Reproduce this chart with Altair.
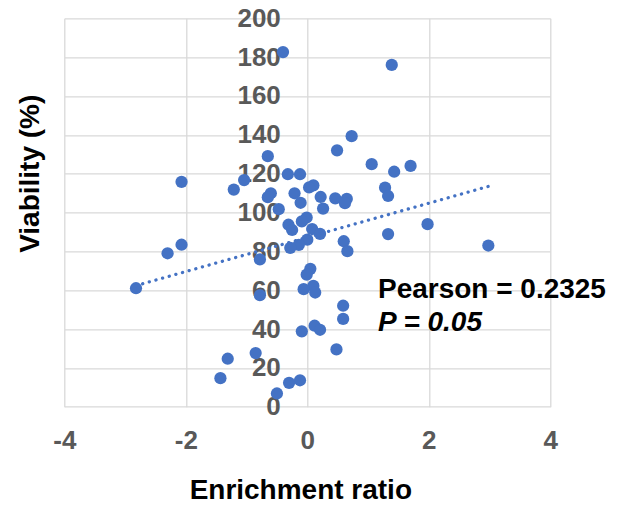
import altair as alt
import pandas as pd

# Enrichment ratio (x) and viability % (y)
enrichment = [-0.40, 1.39, 0.73, 0.49, -0.65, 1.06, 1.70, 1.43, -0.32, -0.12,
              -1.04, -2.07, 0.10, 0.03, 1.28, -1.21, -0.60, -0.65, -0.21, 1.33,
              0.22, 0.46, 0.65, 0.62, -0.11, 0.26, -0.47, -0.01, -0.09, 1.98,
              -0.31, -0.25, 0.08, 0.21, 1.33, 0.00, 0.60, -0.14, -2.07, 2.98,
              -0.28, 0.66, -2.30, -0.78, 0.05, -0.01, 0.10, -2.82, -0.06, 0.13,
              -0.78, 0.59, 0.59, 0.12, 0.21, -0.09, 0.48, -0.85, -1.31, -1.43,
              -0.12, -0.30, -0.50]
viability = [182.6, 176.0, 139.3, 132.0, 129.0, 124.9, 124.0, 121.0, 119.7, 119.7,
             116.7, 115.8, 114.0, 112.9, 112.8, 111.8, 109.9, 107.9, 109.9, 108.5,
             108.0, 107.3, 107.0, 104.8, 105.0, 102.0, 101.7, 97.4, 95.4, 94.0,
             93.7, 91.0, 91.5, 89.0, 88.9, 86.0, 85.2, 83.3, 83.4, 83.0,
             81.8, 80.1, 79.0, 75.8, 71.0, 68.0, 62.2, 61.0, 60.5, 58.8,
             57.4, 52.0, 45.2, 41.7, 39.6, 38.8, 29.5, 27.6, 24.7, 14.7,
             13.6, 12.3, 6.8]
x_ticks = [-4, -2, 0, 2, 4]
y_ticks = [0, 20, 40, 60, 80, 100, 120, 140, 160, 180, 200]
annot_lines = ["Pearson = 0.2325", "P = 0.05"]

df = pd.DataFrame({"x": enrichment, "y": viability})

FONT = "Liberation Sans"
BLUE = "#4472C4"
GRID = "#d9d9d9"
HYPHEN_LABEL = "datum.value < 0 ? '-' + abs(datum.value) : '' + datum.value"

xenc = alt.X(
    "x:Q",
    scale=alt.Scale(domain=[-4, 4], nice=False, zero=False),
    axis=alt.Axis(
        values=x_ticks, title="Enrichment ratio", grid=True, gridColor=GRID,
        gridWidth=1.3, domain=False, ticks=False, labelPadding=21,
        labelExpr=HYPHEN_LABEL,
        labelFont=FONT, labelFontSize=26, labelFontWeight="bold",
        labelColor="#595959", labelFlush=False, labelOverlap=False,
        titleFont=FONT, titleFontSize=28, titleFontWeight="bold",
        titleColor="#000000", titleX=236, titleY=92.3, titleAlign="center",
        titleBaseline="alphabetic",
    ),
)
yenc = alt.Y(
    "y:Q",
    scale=alt.Scale(domain=[0, 200], nice=False, zero=False),
    axis=alt.Axis(
        values=y_ticks, title="Viability (%)", grid=True, gridColor=GRID,
        gridWidth=1.3, domain=False, ticks=False, offset=-243, labelPadding=27,
        labelExpr=HYPHEN_LABEL,
        labelFont=FONT, labelFontSize=26, labelFontWeight="bold",
        labelColor="#595959", labelFlush=False, labelOverlap=False,
        labelBaseline="middle",
        titleFont=FONT, titleFontSize=28, titleFontWeight="bold",
        titleColor="#000000", titleX=-277, titleY=155, titleAngle=270,
        titleAlign="center", titleBaseline="middle",
    ),
)

points = alt.Chart(df).mark_circle(size=150, color=BLUE, opacity=1).encode(
    x=xenc, y=yenc
)

trend = (
    alt.Chart(df)
    .transform_regression("x", "y")
    .mark_line(color=BLUE, strokeWidth=3.3, strokeDash=[0.1, 6.8], strokeCap="round")
    .encode(x=xenc, y=yenc)
)

ann1 = alt.Chart(pd.DataFrame({"label": [annot_lines[0]]})).mark_text(
    align="left", baseline="alphabetic", font=FONT, fontSize=28,
    fontWeight="bold", color="#000000"
).encode(x=alt.value(313.7), y=alt.value(279.7), text="label:N")

ann2 = alt.Chart(pd.DataFrame({"label": [annot_lines[1]]})).mark_text(
    align="left", baseline="alphabetic", font=FONT, fontSize=28,
    fontWeight="bold", fontStyle="italic", color="#000000"
).encode(x=alt.value(313.7), y=alt.value(312.4), text="label:N")

chart = (
    alt.layer(points, trend, ann1, ann2)
    .properties(
        width=486, height=388.4,
        autosize=alt.AutoSizeParams(type="none"),
        padding={"left": 56.3, "top": 10.3, "right": 58, "bottom": 99},
        background="white",
    )
    .configure_view(stroke=None)
)

chart.save("out.html", embed_options={"renderer": "svg", "actions": False})
